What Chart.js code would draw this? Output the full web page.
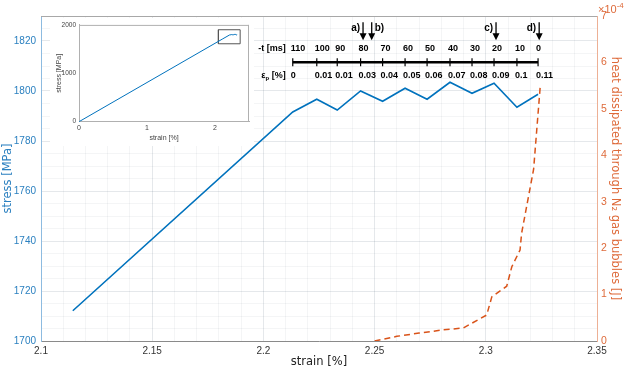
<!DOCTYPE html>
<html>
<head>
<meta charset="utf-8">
<script src="https://cdn.jsdelivr.net/npm/chart.js@4.4.0/dist/chart.umd.min.js"></script>
<style>
  body { margin: 0; background: #fff; }
  #wrap { position: relative; width: 625px; height: 371px; }
  #main { position: absolute; left: 0; top: 0; }
  #inset { position: absolute; left: 50px; top: 18px; }
</style>
</head>
<body>
<div id="wrap">
  <canvas id="main" width="625" height="371"></canvas>
  <canvas id="inset" width="204" height="128"></canvas>
</div>
<script>
// stress-strain curve (main axes)
const strain = [2.1143, 2.2132, 2.2240, 2.2332, 2.2437, 2.2536, 2.2637, 2.2736, 2.2839, 2.2938, 2.3037, 2.3140, 2.3235];
const stress = [1712.1, 1791.6, 1796.7, 1792.4, 1800.0, 1795.9, 1801.1, 1796.7, 1803.5, 1799.1, 1803.1, 1793.5, 1798.7];

// heat dissipated through N2 bubbles, x1e-4 J
const heatStrain = [2.2500, 2.2600, 2.2700, 2.2809, 2.2899, 2.3004, 2.3027, 2.3094, 2.3117, 2.3154, 2.3161, 2.3215, 2.3245];
const heat = [0.00, 0.10, 0.17, 0.24, 0.28, 0.56, 0.95, 1.18, 1.60, 1.96, 2.32, 3.70, 5.50];

// timeline labels above the curve (one per stress point after the first)
const timeLabels = ['110', '100', '90', '80', '70', '60', '50', '40', '30', '20', '10', '0'];
const plasticStrain = ['0', '0.01', '0.01', '0.03', '0.04', '0.05', '0.06', '0.07', '0.08', '0.09', '0.1', '0.11'];

// event arrows
const eventStrain = [2.2448, 2.2487, 2.3046, 2.3240];
const eventLabels = ['a)', 'b)', 'c)', 'd)'];

// zoom box drawn in the inset
const zoomBoxStrain = [2.05, 2.37, 2.37, 2.05, 2.05];
const zoomBoxStress = [1610, 1610, 1900, 1900, 1610];

const BLUE = 'rgb(0,114,189)';
const ORANGE = 'rgb(217,83,25)';
const SANS = '"Liberation Sans", Arial, sans-serif';
const DEJA = '"DejaVu Sans", Verdana, sans-serif';

const isMajorX = v => Math.round(v * 100) % 5 === 0;
const isMajorY = v => Math.round(v) % 20 === 0;
const gridMajor = 'rgba(70,90,110,0.14)';
const gridMinor = 'rgba(70,90,110,0.06)';

const whiteBg = {
  id: 'whiteBg',
  beforeDraw(chart) {
    const ctx = chart.ctx;
    ctx.save();
    ctx.fillStyle = '#fff';
    ctx.fillRect(0, 0, chart.width, chart.height);
    ctx.restore();
  }
};

const topFrame = {
  id: 'topFrame',
  afterDraw(chart) {
    const {ctx, chartArea: a} = chart;
    ctx.save();
    ctx.strokeStyle = chart.options.frameColor || '#999';
    ctx.lineWidth = 1;
    ctx.beginPath();
    ctx.moveTo(a.left, a.top + 0.5);
    ctx.lineTo(a.right, a.top + 0.5);
    if (chart.options.frameRight) {
      ctx.moveTo(a.right - 0.5, a.top);
      ctx.lineTo(a.right - 0.5, a.bottom);
    }
    ctx.stroke();
    ctx.restore();
  }
};

const timeline = {
  id: 'timeline',
  afterDatasetsDraw(chart) {
    const {ctx, scales: {x, y, y1}} = chart;
    const tx = strain.slice(1).map(v => x.getPixelForValue(v));
    const yT = y.getPixelForValue(1817.1);
    const yL = y.getPixelForValue(1811.5);
    const yE = y.getPixelForValue(1806.3);
    ctx.save();
    ctx.fillStyle = '#000';
    ctx.strokeStyle = '#000';
    ctx.textBaseline = 'middle';
    ctx.font = 'bold 9px ' + SANS;
    ctx.textAlign = 'left';
    timeLabels.forEach((t, i) => ctx.fillText(t, tx[i] - 2, yT));
    plasticStrain.forEach((t, i) => ctx.fillText(t, tx[i] - 2, yE));

    ctx.lineWidth = 2.5;
    ctx.beginPath();
    ctx.moveTo(tx[0], yL);
    ctx.lineTo(tx[tx.length - 1], yL);
    ctx.stroke();
    ctx.lineWidth = 1.2;
    tx.forEach(px => {
      ctx.beginPath();
      ctx.moveTo(px, yL - 4);
      ctx.lineTo(px, yL + 4);
      ctx.stroke();
    });

    // row headers
    const hx = tx[0] - 7;
    ctx.textAlign = 'right';
    ctx.fillText('-t [ms]', hx, yT);
    const rest = ' [%]';
    const wRest = ctx.measureText(rest).width;
    ctx.fillText(rest, hx, yE);
    ctx.font = 'bold 6px ' + SANS;
    const wp = ctx.measureText('p').width;
    ctx.fillText('p', hx - wRest, yE + 3);
    ctx.font = 'bold 9px ' + SANS;
    ctx.fillText('ε', hx - wRest - wp, yE);

    // arrows
    const aTop = y.getPixelForValue(1827.5);
    const aBot = y.getPixelForValue(1820.3);
    const aLab = y.getPixelForValue(1825.1);
    ctx.font = 'bold 10px ' + SANS;
    eventStrain.forEach((s, i) => {
      const px = x.getPixelForValue(s);
      ctx.lineWidth = 1.3;
      ctx.beginPath();
      ctx.moveTo(px, aTop);
      ctx.lineTo(px, aBot - 5);
      ctx.stroke();
      ctx.beginPath();
      ctx.moveTo(px - 3.5, aBot - 7);
      ctx.lineTo(px + 3.5, aBot - 7);
      ctx.lineTo(px, aBot);
      ctx.closePath();
      ctx.fill();
      if (eventLabels[i] === 'b)') {
        ctx.textAlign = 'left';
        ctx.fillText(eventLabels[i], px + 3, aLab);
      } else {
        ctx.textAlign = 'right';
        ctx.fillText(eventLabels[i], px - 3, aLab);
      }
    });

    // exponent of right axis
    const ex = y1.left + 1;
    const ey = chart.chartArea.top - 6;
    ctx.fillStyle = '#de6a3a';
    ctx.textAlign = 'left';
    ctx.font = '11px ' + SANS;
    ctx.fillText('×10', ex, ey);
    const w10 = ctx.measureText('×10').width;
    ctx.font = '8px ' + SANS;
    ctx.fillText('-4', ex + w10, ey - 4);
    ctx.restore();
  }
};

new Chart(document.getElementById('main'), {
  type: 'line',
  data: {
    datasets: [
      {
        data: strain.map((v, i) => ({x: v, y: stress[i]})),
        borderColor: BLUE,
        borderWidth: 1.6,
        pointRadius: 0,
        tension: 0,
        yAxisID: 'y'
      },
      {
        data: heatStrain.map((v, i) => ({x: v, y: heat[i]})),
        borderColor: ORANGE,
        borderWidth: 1.5,
        borderDash: [6, 4],
        pointRadius: 0,
        tension: 0,
        yAxisID: 'y1'
      }
    ]
  },
  options: {
    responsive: false,
    animation: false,
    devicePixelRatio: 1,
    frameColor: '#a8a8a8',
    layout: { padding: { top: 16, left: 0, right: 0, bottom: 0 } },
    plugins: { legend: { display: false }, tooltip: { enabled: false } },
    scales: {
      x: {
        type: 'linear',
        min: 2.1,
        max: 2.35,
        ticks: {
          stepSize: 0.01,
          autoSkip: false,
          maxRotation: 0,
          padding: 4,
          color: '#333',
          font: { family: SANS, size: 10 },
          callback: v => isMajorX(v) ? String(Math.round(v * 100) / 100) : ''
        },
        grid: {
          color: c => (c.tick && isMajorX(c.tick.value)) ? gridMajor : gridMinor,
          drawTicks: false
        },
        border: { color: '#8a8a8a' },
        title: {
          display: true,
          text: 'strain [%]',
          color: '#222',
          font: { family: DEJA, size: 11.5 },
          padding: { top: 0, bottom: 2 }
        },
        afterFit: s => { s.height = 30; }
      },
      y: {
        position: 'left',
        min: 1700,
        max: 1830,
        ticks: {
          stepSize: 5,
          autoSkip: false,
          padding: 5,
          color: '#2b80c0',
          font: { family: SANS, size: 10 },
          callback: v => isMajorY(v) ? String(v) : ''
        },
        grid: {
          color: c => (c.tick && isMajorY(c.tick.value)) ? gridMajor : gridMinor,
          drawTicks: false
        },
        border: { color: '#8dbbe0' },
        title: {
          display: true,
          text: 'stress [MPa]',
          color: '#2b80c0',
          font: { family: DEJA, size: 11.5 },
          padding: { top: 1, bottom: 0 }
        },
        afterFit: s => { s.width = 41; }
      },
      y1: {
        position: 'right',
        min: 0,
        max: 7,
        ticks: {
          stepSize: 1,
          padding: 4,
          color: '#de6a3a',
          font: { family: SANS, size: 10.5 }
        },
        grid: { drawOnChartArea: false, drawTicks: false },
        border: { color: '#edb095' },
        title: {
          display: true,
          text: 'heat dissipated through N₂ gas bubbles [J]',
          color: '#de6a3a',
          font: { family: DEJA, size: 11.5 },
          padding: { top: 3, bottom: 0 }
        },
        afterFit: s => { s.width = 28; }
      }
    }
  },
  plugins: [whiteBg, timeline, topFrame]
});

// inset: full curve with zoom box
new Chart(document.getElementById('inset'), {
  type: 'line',
  data: {
    datasets: [
      {
        data: [{x: 0, y: 0}].concat(strain.map((v, i) => ({x: v, y: stress[i]}))),
        borderColor: BLUE,
        borderWidth: 1,
        pointRadius: 0,
        tension: 0
      },
      {
        data: zoomBoxStrain.map((v, i) => ({x: v, y: zoomBoxStress[i]})),
        borderColor: '#555',
        borderWidth: 1,
        pointRadius: 0,
        tension: 0
      }
    ]
  },
  options: {
    responsive: false,
    animation: false,
    devicePixelRatio: 1,
    frameColor: '#b0b0b0',
    frameRight: true,
    layout: { padding: { top: 6, right: 5, left: 0, bottom: 0 } },
    plugins: { legend: { display: false }, tooltip: { enabled: false } },
    scales: {
      x: {
        type: 'linear',
        min: 0,
        max: 2.5,
        ticks: {
          stepSize: 1,
          includeBounds: false,
          maxRotation: 0,
          padding: 2,
          color: '#444',
          font: { family: SANS, size: 7 }
        },
        grid: { display: false, drawTicks: false },
        border: { color: '#b0b0b0' },
        title: {
          display: true,
          text: 'strain [%]',
          color: '#444',
          font: { family: SANS, size: 7 },
          padding: { top: 0, bottom: 4 }
        },
        afterFit: s => { s.height = 24.3; }
      },
      y: {
        min: 0,
        max: 2000,
        ticks: {
          stepSize: 1000,
          padding: 3,
          color: '#444',
          font: { family: SANS, size: 6.5 },
          callback: v => String(v)
        },
        grid: { display: false, drawTicks: false },
        border: { color: '#b0b0b0' },
        title: {
          display: true,
          text: 'stress [MPa]',
          color: '#444',
          font: { family: SANS, size: 7 },
          padding: { top: 5, bottom: 0 }
        },
        afterFit: s => { s.width = 29; }
      }
    }
  },
  plugins: [whiteBg, topFrame]
});
</script>
</body>
</html>
